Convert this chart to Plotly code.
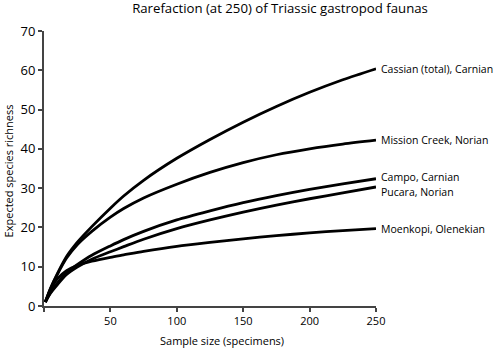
import plotly.graph_objects as go

sample_sizes = [1, 5, 10, 17, 25, 36, 50, 60, 75, 100, 125, 150, 175, 200, 225, 250]

cassian = [1, 4.6, 8.2, 12.6, 16.2, 20.2, 24.9, 28.0, 32.0, 37.6, 42.4, 46.8, 50.8, 54.4, 57.6, 60.4]
mission_creek = [1, 4.5, 8.0, 12.2, 15.6, 19.0, 22.6, 24.8, 27.5, 31.0, 34.0, 36.5, 38.5, 40.0, 41.2, 42.2]
campo = [1, 3.5, 5.8, 8.5, 10.5, 12.9, 15.3, 16.9, 19.0, 21.9, 24.2, 26.3, 28.1, 29.7, 31.1, 32.4]
pucara = [1, 3.3, 5.4, 8.0, 9.9, 11.9, 13.8, 15.1, 17.0, 19.7, 21.9, 23.9, 25.7, 27.3, 28.8, 30.3]
moenkopi = [1, 4.2, 6.9, 9.0, 10.3, 11.4, 12.4, 13.0, 13.9, 15.2, 16.2, 17.1, 17.9, 18.6, 19.2, 19.7]

labels = ["Cassian (total), Carnian", "Mission Creek, Norian", "Campo, Carnian",
          "Pucara, Norian", "Moenkopi, Olenekian"]
curves = [cassian, mission_creek, campo, pucara, moenkopi]
label_offsets = [0, 0, 0.4, -1.2, 0]

x_ticks = [0, 50, 100, 150, 200, 250]
x_tick_labels = ["", "50", "100", "150", "200", "250"]
y_ticks = [0, 10, 20, 30, 40, 50, 60, 70]

FONT = "Open Sans"

fig = go.Figure()
for name, vals, dy in zip(labels, curves, label_offsets):
    fig.add_trace(go.Scatter(x=sample_sizes, y=vals, mode="lines", name=name,
                             line=dict(color="black", width=2.8, shape="spline", smoothing=0.8),
                             showlegend=False, hoverinfo="skip"))
    fig.add_annotation(x=sample_sizes[-1], y=vals[-1] + dy, text=name, showarrow=False,
                       xanchor="left", yanchor="middle", xshift=3,
                       font=dict(family=FONT, size=10.5, color="black"))

fig.add_annotation(xref="paper", yref="paper", x=0.535, y=-0.125, text="Sample size (specimens)",
                   showarrow=False, xanchor="center", yanchor="middle",
                   font=dict(family=FONT, size=11, color="black"))
fig.add_annotation(xref="paper", yref="paper", x=-0.108, y=0.49, text="Expected species richness",
                   showarrow=False, textangle=-90, xanchor="center", yanchor="middle",
                   font=dict(family=FONT, size=11, color="black"))

fig.update_layout(
    width=500, height=348,
    margin=dict(l=44, r=124, t=31, b=42, pad=0),
    paper_bgcolor="white", plot_bgcolor="white",
    title=dict(text="Rarefaction (at 250) of Triassic gastropod faunas", x=0.56, xanchor="center",
               y=0.975, yanchor="middle", font=dict(family=FONT, size=13.2, color="black")),
    xaxis=dict(range=[0, 250], tickvals=x_ticks, ticktext=x_tick_labels, showgrid=False,
               zeroline=False, showline=True, linecolor="#444", linewidth=2,
               ticks="outside", ticklen=4, tickcolor="#444", tickwidth=1.5,
               tickfont=dict(family=FONT, size=11, color="black")),
    yaxis=dict(range=[0, 70], tickvals=y_ticks, showgrid=False, zeroline=False,
               showline=True, linecolor="#444", linewidth=2,
               ticks="outside", ticklen=4, tickcolor="#444", tickwidth=1.5,
               tickfont=dict(family=FONT, size=13, color="black")),
)

fig.write_html("out.html")
